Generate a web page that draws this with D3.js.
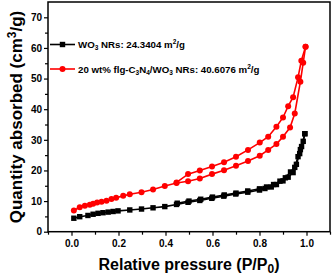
<!DOCTYPE html>
<html>
<head>
<meta charset="utf-8">
<script src="https://cdn.jsdelivr.net/npm/d3@7"></script>
<style>
  body { margin: 0; background: #fff; }
  svg { display: block; font-family: "Liberation Sans", Arial, sans-serif; }
</style>
</head>
<body>
<svg width="333" height="277"></svg>
<script>
// WO3 NRs isotherm
var wo3AdsP = [0.01, 0.035, 0.07, 0.092, 0.113, 0.134, 0.156, 0.177, 0.198, 0.248, 0.298, 0.347, 0.397, 0.447, 0.496, 0.546, 0.597, 0.648, 0.699, 0.75, 0.80, 0.823, 0.85, 0.872, 0.90, 0.922, 0.943, 0.957, 0.971, 0.979, 0.993];
var wo3AdsQ = [4.4, 4.9, 5.3, 5.7, 6.0, 6.2, 6.4, 6.6, 6.8, 7.1, 7.4, 7.8, 8.2, 8.9, 9.6, 10.2, 10.9, 11.6, 12.3, 12.9, 13.6, 14.1, 14.6, 15.4, 16.6, 17.8, 19.3, 22.0, 25.5, 27.8, 32.0];
var wo3DesP = [0.993, 0.986, 0.974, 0.964, 0.95, 0.932, 0.91, 0.887, 0.86, 0.83, 0.80, 0.75, 0.70, 0.65, 0.60, 0.55, 0.50, 0.45];
var wo3DesQ = [32.0, 29.5, 26.8, 24.5, 21.0, 19.5, 17.6, 16.5, 15.4, 14.6, 14.0, 13.3, 12.6, 12.0, 11.3, 10.6, 10.0, 9.3];

// 20 wt% flg-C3N4/WO3 NRs isotherm
var cnAdsP = [0.01, 0.035, 0.057, 0.078, 0.092, 0.109, 0.128, 0.149, 0.17, 0.19, 0.22, 0.248, 0.298, 0.347, 0.397, 0.447, 0.496, 0.546, 0.598, 0.649, 0.70, 0.751, 0.801, 0.837, 0.872, 0.90, 0.93, 0.95, 0.974, 0.986, 0.996];
var cnAdsQ = [6.9, 8.0, 8.5, 8.8, 9.1, 9.5, 9.8, 10.1, 10.7, 11.1, 11.7, 12.2, 12.9, 13.8, 14.9, 15.9, 16.5, 17.4, 18.8, 20.1, 21.5, 23.1, 24.8, 26.7, 28.6, 31.0, 34.0, 38.6, 49.0, 55.2, 60.4];
var cnDesP = [0.996, 0.978, 0.964, 0.943, 0.922, 0.90, 0.872, 0.837, 0.801, 0.751, 0.70, 0.649, 0.598, 0.546, 0.496, 0.447];
var cnDesQ = [60.4, 55.8, 50.4, 43.9, 41.0, 37.3, 34.3, 31.0, 29.1, 26.7, 24.5, 22.7, 21.3, 20.0, 18.8, 16.1];

var xTicks = [0.0, 0.2, 0.4, 0.6, 0.8, 1.0];
var yTicks = [0, 10, 20, 30, 40, 50, 60, 70];

var svg = d3.select("svg");
var mLeft = 48, mRight = 330, mTop = 2, mBottom = 231.7;

var x = d3.scaleLinear().domain([-0.1, 1.1]).range([mLeft, mRight]);
var y = d3.scaleLinear().domain([0, 75]).range([mBottom, mTop]);

function zip(p, q) { return p.map(function (d, i) { return [d, q[i]]; }); }

var line = d3.line()
  .x(function (d) { return x(d[0]); })
  .y(function (d) { return y(d[1]); });

// frame
svg.append("rect")
  .attr("x", mLeft).attr("y", mTop)
  .attr("width", mRight - mLeft).attr("height", mBottom - mTop)
  .attr("fill", "none").attr("stroke", "#000").attr("stroke-width", 1.5);

// axes
var xAxis = d3.axisBottom(x).tickValues(xTicks).tickFormat(d3.format(".1f")).tickSize(4).tickPadding(4);
var xMinor = d3.axisBottom(x).tickValues([-0.1, 0.1, 0.3, 0.5, 0.7, 0.9, 1.1]).tickFormat("").tickSize(3);
var yAxis = d3.axisLeft(y).tickValues(yTicks).tickSize(4).tickPadding(2);
var yMinor = d3.axisLeft(y).tickValues([5, 15, 25, 35, 45, 55, 65]).tickFormat("").tickSize(3);

[[xAxis, "translate(0," + mBottom + ")"], [xMinor, "translate(0," + mBottom + ")"],
 [yAxis, "translate(" + mLeft + ",0)"], [yMinor, "translate(" + mLeft + ",0)"]].forEach(function (a) {
  var g = svg.append("g").attr("transform", a[1]).call(a[0]);
  g.select(".domain").remove();
  g.selectAll("line").attr("stroke-width", 1.2);
  g.selectAll("text").attr("font-family", "Liberation Sans, Arial, sans-serif")
    .attr("font-size", 10).attr("font-weight", "bold").attr("fill", "#000");
});

// series
var series = [
  { color: "#000", shape: "square", parts: [zip(wo3AdsP, wo3AdsQ), zip(wo3DesP, wo3DesQ)] },
  { color: "#ff0000", shape: "circle", parts: [zip(cnAdsP, cnAdsQ), zip(cnDesP, cnDesQ)] }
];

series.forEach(function (s) {
  s.parts.forEach(function (pts) {
    svg.append("path").datum(pts)
      .attr("d", line).attr("fill", "none")
      .attr("stroke", s.color).attr("stroke-width", 1.6);
    if (s.shape === "square") {
      svg.selectAll(null).data(pts).enter().append("rect")
        .attr("x", function (d) { return x(d[0]) - 2.7; })
        .attr("y", function (d) { return y(d[1]) - 2.7; })
        .attr("width", 5.4).attr("height", 5.4).attr("fill", s.color);
    } else {
      svg.selectAll(null).data(pts).enter().append("circle")
        .attr("cx", function (d) { return x(d[0]); })
        .attr("cy", function (d) { return y(d[1]); })
        .attr("r", 3).attr("fill", s.color);
    }
  });
});

// legend
var legend = [
  { color: "#000", shape: "square", y: 44.5,
    parts: [["WO", 0], ["3", 1], [" NRs: 24.3404 m", 0], ["2", 2], ["/g", 0]] },
  { color: "#ff0000", shape: "circle", y: 69,
    parts: [["20 wt% flg-C", 0], ["3", 1], ["N", 0], ["4", 1], ["/WO", 0], ["3", 1], [" NRs: 40.6076 m", 0], ["2", 2], ["/g", 0]] }
];

function off(k) { return k === 1 ? 2 : (k === 2 ? -4 : 0); }

legend.forEach(function (l) {
  svg.append("line").attr("x1", 50).attr("x2", 75).attr("y1", l.y).attr("y2", l.y)
    .attr("stroke", l.color).attr("stroke-width", 1.6);
  if (l.shape === "square") {
    svg.append("rect").attr("x", 62.5 - 2.7).attr("y", l.y - 2.7).attr("width", 5.4).attr("height", 5.4).attr("fill", l.color);
  } else {
    svg.append("circle").attr("cx", 62.5).attr("cy", l.y).attr("r", 3).attr("fill", l.color);
  }
  var t = svg.append("text").attr("x", 78).attr("y", l.y + 3.6)
    .attr("font-size", 9.7).attr("font-weight", "bold").attr("fill", "#000");
  var prev = 0;
  l.parts.forEach(function (p) {
    var ts = t.append("tspan").text(p[0]).attr("dy", off(p[1]) - off(prev));
    if (p[1] !== 0) ts.attr("font-size", 6.5);
    prev = p[1];
  });
});

// axis titles
var xt = svg.append("text").attr("x", 189).attr("y", 270).attr("text-anchor", "middle")
  .attr("font-size", 16).attr("font-weight", "bold").attr("fill", "#000");
xt.append("tspan").text("Relative pressure (P/P");
xt.append("tspan").text("0").attr("font-size", 12).attr("dy", 3);
xt.append("tspan").text(")").attr("dy", -3);

var yt = svg.append("text").attr("transform", "translate(22,117) rotate(-90)")
  .attr("text-anchor", "middle").attr("font-size", 17).attr("font-weight", "bold").attr("fill", "#000");
yt.append("tspan").text("Quantity absorbed (cm");
yt.append("tspan").text("3").attr("font-size", 12).attr("dy", -6);
yt.append("tspan").text("/g)").attr("dy", 6);
</script>
</body>
</html>
